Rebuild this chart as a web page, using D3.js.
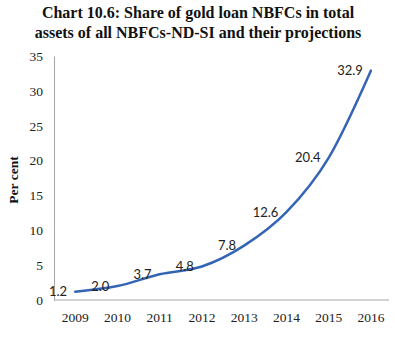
<!DOCTYPE html>
<html>
<head>
<meta charset="utf-8">
<script src="https://cdn.jsdelivr.net/npm/d3@7"></script>
<style>
  html, body { margin: 0; padding: 0; background: #fff; }
  svg { display: block; }
</style>
</head>
<body>
<svg id="chart" width="395" height="338"></svg>
<script>
// Share of gold loan NBFCs in total assets of NBFCs-ND-SI (per cent)
const years = ["2009", "2010", "2011", "2012", "2013", "2014", "2015", "2016"];
const shares = [1.2, 2.0, 3.7, 4.8, 7.8, 12.6, 20.4, 32.9];
const yTicks = [0, 5, 10, 15, 20, 25, 30, 35];
const titleLines = [
  "Chart 10.6: Share of gold loan NBFCs in total",
  "assets of all NBFCs-ND-SI and their projections"
];

const svg = d3.select("#chart");
const plot = { left: 54, right: 392, top: 56, bottom: 300 };

const x = d3.scaleBand().domain(years).range([plot.left, plot.right]);
const y = d3.scaleLinear().domain([0, 35]).range([plot.bottom, plot.top]);

// Title
svg.append("g")
  .selectAll("text")
  .data(titleLines)
  .join("text")
  .attr("x", 198)
  .attr("y", (d, i) => 18 + i * 20)
  .attr("text-anchor", "middle")
  .attr("font-family", "Liberation Serif, Times New Roman, serif")
  .attr("font-weight", "bold")
  .attr("font-size", 16)
  .attr("fill", "#111")
  .text(d => d);

// Y axis
const yAxis = svg.append("g")
  .attr("transform", `translate(${plot.left},0)`)
  .call(d3.axisLeft(y).tickValues(yTicks).tickSize(0).tickPadding(11));
yAxis.select(".domain").attr("stroke", "#a6a6a6");
yAxis.selectAll("text")
  .attr("font-family", "Liberation Serif, Times New Roman, serif")
  .attr("font-size", 13.5)
  .attr("fill", "#222");

// X axis
const xAxis = svg.append("g")
  .attr("transform", `translate(0,${plot.bottom})`)
  .call(d3.axisBottom(x).tickSize(0).tickPadding(12));
xAxis.select(".domain").attr("stroke", "#a6a6a6").attr("d", `M${plot.left},0H389`);
xAxis.selectAll("text")
  .attr("font-family", "Liberation Serif, Times New Roman, serif")
  .attr("font-size", 13.5)
  .attr("fill", "#222");

// Y axis title
svg.append("text")
  .attr("transform", `translate(18,${(plot.top + plot.bottom) / 2 + 2}) rotate(-90)`)
  .attr("text-anchor", "middle")
  .attr("font-family", "Liberation Serif, Times New Roman, serif")
  .attr("font-weight", "bold")
  .attr("font-size", 13.5)
  .attr("fill", "#111")
  .text("Per cent");

// Line
const cx = d => x(d) + x.bandwidth() / 2;
const line = d3.line()
  .x((d, i) => cx(years[i]))
  .y(d => y(d))
  .curve(d3.curveMonotoneX);

svg.append("path")
  .datum(shares)
  .attr("d", line)
  .attr("fill", "none")
  .attr("stroke", "#3465b4")
  .attr("stroke-width", 2.5)
  .attr("stroke-linecap", "round");

// Value labels, placed to the left of each point
svg.append("g")
  .selectAll("text")
  .data(shares)
  .join("text")
  .attr("x", (d, i) => cx(years[i]) - 8)
  .attr("y", d => y(d))
  .attr("dy", "0.35em")
  .attr("text-anchor", "end")
  .attr("font-family", "Lato, Liberation Sans, sans-serif")
  .attr("font-size", 13)
  .attr("fill", "#222")
  .text(d => d.toFixed(1));
</script>
</body>
</html>
